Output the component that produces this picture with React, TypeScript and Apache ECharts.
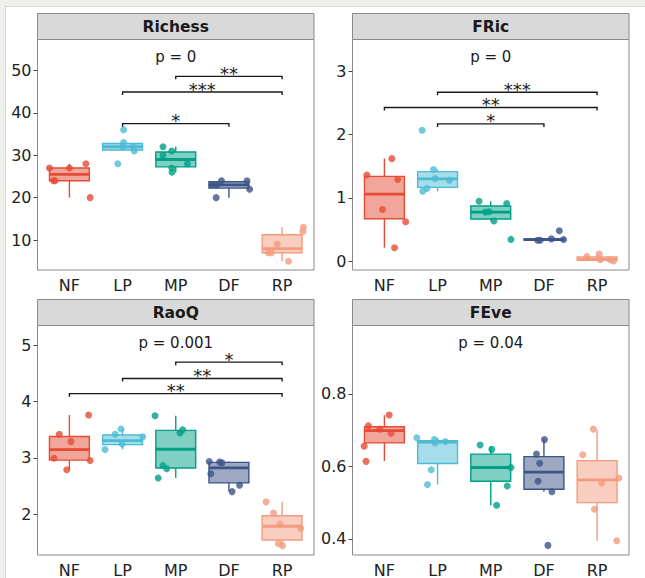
import React, { useEffect, useRef } from "react";
import * as echarts from "echarts";

const groups = ["NF", "LP", "MP", "DF", "RP"];
const palette = ["#E64B35", "#4DBBD5", "#00A087", "#3C5488", "#F39B7F"];

const metricNames = ["Richess", "FRic", "RaoQ", "FEve"];
const pTexts = ["p = 0", "p = 0", "p = 0.001", "p = 0.04"];

// box stats: [low whisker, Q1, median, Q3, high whisker]
const richessBox = [
  [20, 24, 25.5, 27, 28],
  [31, 31.25, 32, 32.75, 33],
  [26, 27.25, 29, 30.75, 32],
  [20, 22.25, 23, 23.75, 24],
  [5, 7, 8, 11.25, 13],
];
const richessPts = [
  [27, 24, 24, 27, 28, 20],
  [36, 28, 33, 32, 32, 31],
  [32, 30, 31, 27, 26, 28],
  [23, 23, 24, 24, 22, 20],
  [7, 7, 9, 5, 12, 13],
];
const richessJit = [
  [-0.375, -0.3, -0.27, 0, 0.31, 0.39],
  [0.02, -0.09, 0.02, 0.0, 0.2, 0.22],
  [-0.24, -0.24, -0.075, -0.075, -0.07, 0.22],
  [-0.32, -0.225, -0.14, 0.34, 0.39, -0.24],
  [-0.26, -0.2, -0.09, 0.12, 0.39, 0.4],
];
const richessSig: [number, number, number, string][] = [
  [2, 4, 37.45, "*"],
  [2, 5, 44.9, "***"],
  [3, 5, 48.6, "**"],
];
const richessTicks = [10, 20, 30, 40, 50];

const fricBox = [
  [0.21, 0.67, 1.06, 1.34, 1.62],
  [1.105, 1.165, 1.3, 1.415, 1.447],
  [0.632, 0.665, 0.775, 0.87, 0.947],
  [0.32, 0.33, 0.34, 0.35, 0.36],
  [0.0, 0.012, 0.03, 0.065, 0.11],
];
const fricPts = [
  [1.36, 1.62, 1.29, 0.816, 0.621, 0.21],
  [2.07, 1.447, 1.305, 1.279, 1.105, 1.147],
  [0.947, 0.774, 0.78, 0.632, 0.91, 0.342],
  [0.33, 0.33, 0.35, 0.48, 0.34],
  [0.07, 0.11, 0.02, 0.02, 0.0],
];
const fricJit = [
  [-0.33, 0.14, 0.25, -0.035, 0.4, 0.19],
  [-0.29, -0.075, -0.045, 0.225, -0.28, -0.2],
  [-0.22, -0.1, -0.03, 0.06, 0.3, 0.38],
  [-0.12, -0.07, 0.14, 0.29, 0.37],
  [-0.19, 0.04, 0.06, 0.24, 0.31],
];
const fricSig: [number, number, number, string][] = [
  [2, 5, 2.67, "***"],
  [1, 5, 2.43, "**"],
  [2, 4, 2.17, "*"],
];
const fricTicks = [0, 1, 2, 3];

const raoBox = [
  [2.79, 2.96, 3.145, 3.38, 3.76],
  [3.15, 3.235, 3.305, 3.405, 3.51],
  [2.64, 2.82, 3.153, 3.488, 3.747],
  [2.4, 2.555, 2.82, 2.92, 2.935],
  [1.44, 1.54, 1.785, 1.97, 2.218],
];
const raoPts = [
  [3.418, 3.288, 2.994, 2.788, 3.76, 2.953],
  [3.147, 3.418, 3.512, 3.247, 3.376],
  [3.747, 3.441, 3.5, 2.865, 2.806, 2.641],
  [2.935, 2.924, 2.912, 2.718, 2.4, 2.512],
  [2.218, 2.018, 1.824, 1.747, 1.476, 1.44],
];
const raoJit = [
  [-0.19, 0.03, -0.29, -0.05, 0.36, 0.39],
  [-0.33, -0.14, -0.03, -0.01, 0.38],
  [-0.39, 0.08, 0.13, -0.24, -0.17, -0.33],
  [-0.37, -0.175, -0.13, -0.34, 0.06, 0.2],
  [-0.3, -0.16, -0.04, 0.35, -0.07, 0.01],
];
const raoSig: [number, number, number, string][] = [
  [3, 5, 4.7, "*"],
  [2, 5, 4.41, "**"],
  [1, 5, 4.14, "**"],
];
const raoTicks = [2, 3, 4, 5];

const feveBox = [
  [0.6146, 0.665, 0.699, 0.7096, 0.7416],
  [0.55, 0.608, 0.667, 0.671, 0.679],
  [0.493, 0.559, 0.597, 0.634, 0.656],
  [0.53, 0.537, 0.584, 0.627, 0.676],
  [0.395, 0.5, 0.563, 0.616, 0.701],
];
const fevePts = [
  [0.656, 0.614, 0.712, 0.703, 0.742, 0.692],
  [0.679, 0.674, 0.665, 0.669, 0.591, 0.55],
  [0.659, 0.647, 0.597, 0.546, 0.493],
  [0.674, 0.634, 0.609, 0.559, 0.53, 0.382],
  [0.703, 0.632, 0.554, 0.568, 0.482, 0.395],
];
const feveJit = [
  [-0.38, -0.345, -0.3, -0.09, 0.09, 0.125],
  [-0.39, -0.06, -0.045, 0.145, -0.12, -0.19],
  [-0.2, 0.02, 0.38, 0.31, 0.11],
  [0.01, -0.14, -0.08, -0.11, 0.15, 0.075],
  [-0.07, -0.27, 0.09, 0.41, -0.05, 0.37],
];
const feveSig: [number, number, number, string][] = [];
const feveTicks = [0.4, 0.6, 0.8];

const FONT = "DejaVu Sans";

function rgba(hex: string, a: number) {
  const n = parseInt(hex.slice(1), 16);
  return `rgba(${(n >> 16) & 255},${(n >> 8) & 255},${n & 255},${a})`;
}

export default function App() {
  const ref = useRef<HTMLDivElement>(null);
  useEffect(() => {
    const chart = echarts.init(ref.current!, null, { renderer: "svg" });

    const panels = [
      { box: richessBox, pts: richessPts, jit: richessJit, sig: richessSig, ticks: richessTicks, min: 2.94, max: 57.29 },
      { box: fricBox, pts: fricPts, jit: fricJit, sig: fricSig, ticks: fricTicks, min: -0.142, max: 3.505 },
      { box: raoBox, pts: raoPts, jit: raoJit, sig: raoSig, ticks: raoTicks, min: 1.274, max: 5.351 },
      { box: feveBox, pts: fevePts, jit: feveJit, sig: feveSig, ticks: feveTicks, min: 0.3555, max: 0.989 },
    ];
    const layout = [
      { left: 37.5, top: 39.5, width: 276.5, height: 230.5, stripTop: 13.5 },
      { left: 352.5, top: 39.5, width: 276.5, height: 230.5, stripTop: 13.5 },
      { left: 37.5, top: 325.5, width: 276.5, height: 231.5, stripTop: 299.5 },
      { left: 352.5, top: 325.5, width: 276.5, height: 231.5, stripTop: 299.5 },
    ];

    const grids: any[] = [];
    const xAxes: any[] = [];
    const yAxes: any[] = [];
    const series: any[] = [];
    const graphics: any[] = [
      { type: "rect", shape: { x: 0, y: 0, width: 645, height: 6 }, style: { fill: "#efefeb" }, silent: true },
      { type: "rect", shape: { x: 0, y: 6, width: 645, height: 1 }, style: { fill: "#d9d9d3" }, silent: true },
      { type: "rect", shape: { x: 0, y: 0, width: 5, height: 578 }, style: { fill: "#efefeb" }, silent: true },
      { type: "rect", shape: { x: 5, y: 6, width: 1, height: 572 }, style: { fill: "#d9d9d3" }, silent: true },
    ];

    panels.forEach((p, i) => {
      const L = layout[i];
      grids.push({
        left: L.left,
        top: L.top,
        width: L.width,
        height: L.height,
        show: true,
        backgroundColor: "#ffffff",
        borderColor: "#8a8a8a",
        borderWidth: 1,
        containLabel: false,
      });
      xAxes.push({
        gridIndex: i,
        type: "value",
        min: 0.4,
        max: 5.6,
        splitLine: { show: false },
        axisLine: { show: false },
        axisTick: { show: false },
        axisLabel: {
          customValues: [1, 2, 3, 4, 5],
          formatter: (v: number) => groups[Math.round(v) - 1],
          fontFamily: FONT,
          fontSize: 16,
          color: "#222",
          margin: 7,
        },
      });
      yAxes.push({
        gridIndex: i,
        type: "value",
        min: p.min,
        max: p.max,
        splitLine: { show: false },
        axisLine: { show: false },
        axisTick: { show: true, length: 4, customValues: p.ticks, lineStyle: { color: "#444", width: 1 } },
        axisLabel: {
          customValues: p.ticks,
          fontFamily: FONT,
          fontSize: 16,
          color: "#222",
          margin: 6,
        },
      });

      // boxes
      series.push({
        type: "custom",
        xAxisIndex: i,
        yAxisIndex: i,
        z: 2,
        data: p.box.map((b, k) => [k + 1, b[0], b[1], b[2], b[3], b[4]]),
        encode: { x: 0, y: [1, 2, 3, 4, 5] },
        renderItem: (params: any, api: any) => {
          const k = api.value(0);
          const c = palette[k - 1];
          const half = api.size([0.75, 0])[0] / 2;
          const lo = api.coord([k, api.value(1)]);
          const q1 = api.coord([k, api.value(2)]);
          const md = api.coord([k, api.value(3)]);
          const q3 = api.coord([k, api.value(4)]);
          const hi = api.coord([k, api.value(5)]);
          const cx = lo[0];
          return {
            type: "group",
            children: [
              { type: "line", shape: { x1: cx, y1: hi[1], x2: cx, y2: q3[1] }, style: { stroke: c, lineWidth: 1.4 } },
              { type: "line", shape: { x1: cx, y1: q1[1], x2: cx, y2: lo[1] }, style: { stroke: c, lineWidth: 1.4 } },
              {
                type: "rect",
                shape: { x: cx - half, y: q3[1], width: half * 2, height: q1[1] - q3[1] },
                style: { fill: rgba(c, 0.5), stroke: c, lineWidth: 1.4 },
              },
              { type: "line", shape: { x1: cx - half, y1: md[1], x2: cx + half, y2: md[1] }, style: { stroke: c, lineWidth: 2.8 } },
            ],
          };
        },
      });

      // jittered points
      const pts: any[] = [];
      p.pts.forEach((arr, k) => {
        arr.forEach((v, j) => {
          pts.push({ value: [k + 1 + p.jit[k][j], v], itemStyle: { color: palette[k] } });
        });
      });
      series.push({
        type: "scatter",
        xAxisIndex: i,
        yAxisIndex: i,
        z: 3,
        symbolSize: 7,
        data: pts,
        silent: true,
      });

      // significance brackets
      if (p.sig.length) {
        const sig = p.sig;
        series.push({
          type: "custom",
          xAxisIndex: i,
          yAxisIndex: i,
          z: 4,
          data: sig.map((s) => [s[0], s[1], s[2]]),
          encode: { x: [0, 1], y: 2 },
          renderItem: (params: any, api: any) => {
            const a = api.coord([api.value(0), api.value(2)]);
            const b = api.coord([api.value(1), api.value(2)]);
            const tip = 3;
            return {
              type: "group",
              children: [
                {
                  type: "polyline",
                  shape: { points: [[a[0], a[1] + tip], [a[0], a[1]], [b[0], b[1]], [b[0], b[1] + tip]] },
                  style: { stroke: "#1a1a1a", lineWidth: 1.4, fill: "none" },
                },
                {
                  type: "text",
                  x: (a[0] + b[0]) / 2,
                  y: a[1] - 3,
                  style: {
                    text: sig[params.dataIndex][3],
                    fontFamily: FONT,
                    fontSize: 18,
                    fill: "#1a1a1a",
                    align: "center",
                    verticalAlign: "middle",
                  },
                },
              ],
            };
          },
        });
      }

      // strip
      graphics.push({
        type: "rect",
        shape: { x: L.left, y: L.stripTop, width: L.width, height: L.top - L.stripTop },
        style: { fill: "#d9d9d9", stroke: "#8a8a8a", lineWidth: 1 },
        z: 10,
      });
      graphics.push({
        type: "text",
        x: L.left + L.width / 2,
        y: (L.stripTop + L.top) / 2 + 0.5,
        style: {
          text: metricNames[i],
          fontFamily: FONT,
          fontSize: 15.5,
          fontWeight: "bold",
          fill: "#1a1a1a",
          align: "center",
          verticalAlign: "middle",
        },
        z: 11,
      });
      graphics.push({
        type: "text",
        x: L.left + L.width / 2,
        y: L.top + 17,
        style: {
          text: pTexts[i],
          fontFamily: FONT,
          fontSize: 15,
          fill: "#1a1a1a",
          align: "center",
          verticalAlign: "middle",
        },
        z: 11,
      });
    });

    chart.setOption({
      animation: false,
      backgroundColor: "#ffffff",
      grid: grids,
      xAxis: xAxes,
      yAxis: yAxes,
      series,
      graphic: { elements: graphics },
    });
    return () => chart.dispose();
  }, []);
  return <div ref={ref} style={{ position: "fixed", left: 0, top: 0, width: 645, height: 578 }} />;
}
